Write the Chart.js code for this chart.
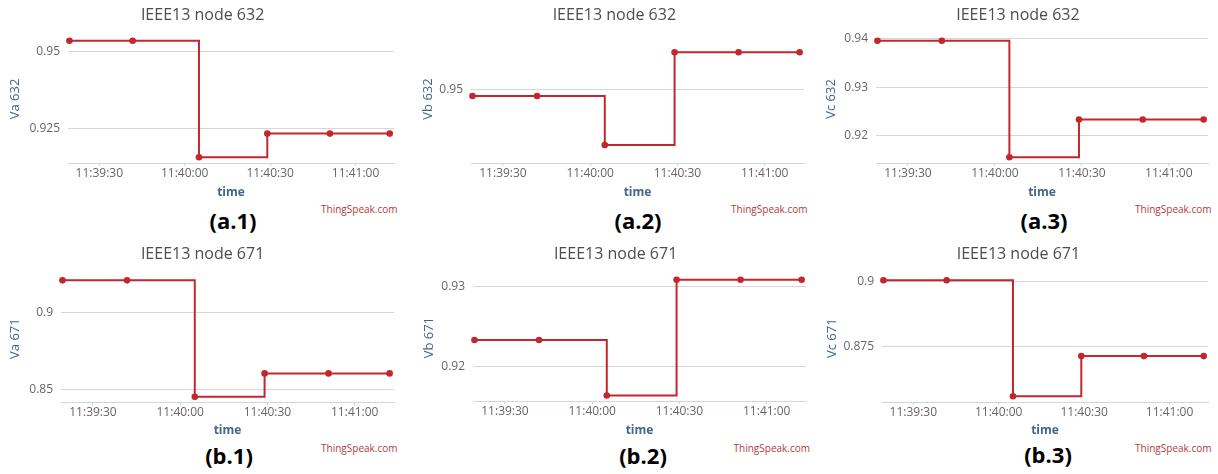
<!DOCTYPE html>
<html>
<head>
<meta charset="utf-8">
<script src="https://cdn.jsdelivr.net/npm/chart.js@4.4.1/dist/chart.umd.min.js"></script>
<style>
  html, body { margin: 0; padding: 0; background: #ffffff; }
  body { position: relative; width: 1218px; height: 474px; overflow: hidden; font-family: 'Open Sans', sans-serif; }
  canvas { position: absolute; }
  .credit { position: absolute; font: 10px 'Open Sans', sans-serif; color: #b23a3a; white-space: nowrap; transform: translate(-100%, -50%); }
  .tag { position: absolute; font: bold 22px 'Open Sans', sans-serif; color: #000; white-space: nowrap; transform: translate(-50%, -50%); }
</style>
</head>
<body>
<script>
// ---- data ----
// sample times, seconds of the day (11:39:19.5 ... 11:41:12)
const timeSec = [41959.5, 41981.7, 42005.0, 42029.0, 42051.0, 42072.0];
const xTickSec = [41970, 42000, 42030, 42060];
const xTickLabels = ['11:39:30', '11:40:00', '11:40:30', '11:41:00'];

const va632 = [0.9536, 0.9536, 0.9156, 0.9233, 0.9233, 0.9233];
const vb632 = [0.9478, 0.9478, 0.9317, 0.9622, 0.9622, 0.9622];
const vc632 = [0.9396, 0.9396, 0.9155, 0.9233, 0.9233, 0.9233];
const va671 = [0.9209, 0.9209, 0.8454, 0.8606, 0.8606, 0.8606];
const vb671 = [0.9233, 0.9233, 0.9163, 0.9309, 0.9309, 0.9309];
const vc671 = [0.9005, 0.9005, 0.8560, 0.8714, 0.8714, 0.8714];

const yTicksVa632 = [0.925, 0.95];   const yLabelsVa632 = ['0.925', '0.95'];
const yTicksVb632 = [0.95];          const yLabelsVb632 = ['0.95'];
const yTicksVc632 = [0.92, 0.93, 0.94]; const yLabelsVc632 = ['0.92', '0.93', '0.94'];
const yTicksVa671 = [0.85, 0.9];     const yLabelsVa671 = ['0.85', '0.9'];
const yTicksVb671 = [0.92, 0.93];    const yLabelsVb671 = ['0.92', '0.93'];
const yTicksVc671 = [0.875, 0.9];    const yLabelsVc671 = ['0.875', '0.9'];

const titles = ['IEEE13 node 632', 'IEEE13 node 671'];
const yTitles = ['Va 632', 'Vb 632', 'Vc 632', 'Va 671', 'Vb 671', 'Vc 671'];
const tags = ['(a.1)', '(a.2)', '(a.3)', '(b.1)', '(b.2)', '(b.3)'];
const xTitle = 'time';
const creditText = 'ThingSpeak.com';

// ---- layout / style ----
const LINE = '#c2272d';
const AXIS_BLUE = '#43658a';
const X_MIN = 41959.0, X_MAX = 42073.5;

const panels = [
  { values: va632, ticks: yTicksVa632, labels: yLabelsVa632, title: titles[0], yTitle: yTitles[0], tag: tags[0],
    yMin: 0.9137, yMax: 0.9555, x0: 0,   y0: 0,   h: 200, L: 68,  R: 398,  T: 35,    B: 163,   titleY: 15,    yTitleX: 15,
    credit: [397.5, 208.5], tagPos: [233, 219.5] },
  { values: vb632, ticks: yTicksVb632, labels: yLabelsVb632, title: titles[0], yTitle: yTitles[1], tag: tags[1],
    yMin: 0.92576, yMax: 0.96786, x0: 410, y0: 0, h: 200, L: 471, R: 808,  T: 35,    B: 163,   titleY: 15,    yTitleX: 428.5,
    credit: [807.5, 208.5], tagPos: [638, 219.5] },
  { values: vc632, ticks: yTicksVc632, labels: yLabelsVc632, title: titles[0], yTitle: yTitles[2], tag: tags[2],
    yMin: 0.9143, yMax: 0.9408, x0: 810, y0: 0,   h: 200, L: 876, R: 1212, T: 35,    B: 163,   titleY: 15,    yTitleX: 831.7,
    credit: [1211.5, 208.5], tagPos: [1044, 219.5] },
  { values: va671, ticks: yTicksVa671, labels: yLabelsVa671, title: titles[1], yTitle: yTitles[3], tag: tags[3],
    yMin: 0.8416, yMax: 0.9247, x0: 0,   y0: 237, h: 201, L: 61,  R: 398,  T: 274.5, B: 402.7, titleY: 254.5, yTitleX: 15,
    credit: [397.5, 448], tagPos: [229, 455.3] },
  { values: vb671, ticks: yTicksVb671, labels: yLabelsVb671, title: titles[1], yTitle: yTitles[4], tag: tags[4],
    yMin: 0.91557, yMax: 0.93163, x0: 410, y0: 237, h: 201, L: 473, R: 810, T: 274,   B: 401.3, titleY: 254.5, yTitleX: 429,
    credit: [810, 448], tagPos: [643, 455.3] },
  { values: vc671, ticks: yTicksVc671, labels: yLabelsVc671, title: titles[1], yTitle: yTitles[5], tag: tags[5],
    yMin: 0.85378, yMax: 0.90273, x0: 810, y0: 237, h: 201, L: 882, R: 1212, T: 274.5, B: 402,   titleY: 254.5, yTitleX: 832.7,
    credit: [1211.5, 448], tagPos: [1048, 453.7] }
];

Chart.defaults.font.family = "'Open Sans', sans-serif";
Chart.defaults.animation = false;

panels.forEach((p) => {
  const w = p.R - p.x0;
  const canvas = document.createElement('canvas');
  canvas.width = w; canvas.height = p.h;
  canvas.style.left = p.x0 + 'px'; canvas.style.top = p.y0 + 'px';
  canvas.style.width = w + 'px'; canvas.style.height = p.h + 'px';
  document.body.appendChild(canvas);

  const titleSize = 16, titleLH = titleSize * 1.2;
  const yTitleSize = 13, yTitleLH = yTitleSize * 1.2;
  const padLeft = p.yTitleX - p.x0 - yTitleLH / 2;
  const tPadTop = p.titleY - p.y0 - titleLH / 2;
  const tPadBottom = p.T - p.y0 - tPadTop - titleLH;

  new Chart(canvas, {
    type: 'line',
    data: {
      datasets: [{
        data: timeSec.map((t, i) => ({ x: t, y: p.values[i] })),
        stepped: true,
        borderColor: LINE,
        backgroundColor: LINE,
        borderWidth: 2,
        pointRadius: 3.3,
        pointBackgroundColor: LINE,
        pointBorderWidth: 0,
        fill: false,
        clip: false
      }]
    },
    options: {
      responsive: false,
      devicePixelRatio: 1,
      animation: false,
      layout: { padding: { left: padLeft, right: 0, top: 0, bottom: 0 } },
      plugins: {
        legend: { display: false },
        tooltip: { enabled: false },
        title: {
          display: true, text: p.title, color: '#4d4d4d',
          font: { size: titleSize, weight: 'normal' },
          padding: { top: tPadTop, bottom: tPadBottom }
        }
      },
      scales: {
        x: {
          type: 'linear', min: X_MIN, max: X_MAX,
          afterBuildTicks: (s) => { s.ticks = xTickSec.map(v => ({ value: v })); },
          afterFit: (s) => { s.height = p.y0 + p.h - p.B; },
          ticks: { autoSkip: false, maxRotation: 0, minRotation: 0, padding: 0, color: '#666666',
                   font: { size: 12 }, callback: (v, i) => xTickLabels[i] },
          grid: { display: true, drawOnChartArea: false, drawTicks: true, tickLength: 3, color: '#ccd6eb' },
          border: { display: true, color: '#ccd6eb', width: 1 },
          title: { display: true, text: xTitle, color: AXIS_BLUE, font: { size: 12, weight: 'bold' }, padding: { top: 0, bottom: 0 } }
        },
        y: {
          type: 'linear', min: p.yMin, max: p.yMax,
          afterBuildTicks: (s) => { s.ticks = p.ticks.map(v => ({ value: v })); },
          afterFit: (s) => { s.width = p.L - p.x0 - padLeft; },
          ticks: { padding: 8, color: '#666666', font: { size: 12 }, callback: (v, i) => p.labels[i] },
          grid: { drawTicks: false, color: '#d6d6d6', lineWidth: 1 },
          border: { display: false },
          title: { display: true, text: p.yTitle, color: AXIS_BLUE, font: { size: yTitleSize, weight: 'normal' }, padding: { top: 0, bottom: 0 } }
        }
      }
    }
  });

  const c = document.createElement('div');
  c.className = 'credit'; c.textContent = creditText;
  c.style.left = p.credit[0] + 'px'; c.style.top = p.credit[1] + 'px';
  document.body.appendChild(c);

  const t = document.createElement('div');
  t.className = 'tag'; t.textContent = p.tag;
  t.style.left = p.tagPos[0] + 'px'; t.style.top = p.tagPos[1] + 'px';
  document.body.appendChild(t);
});
</script>
</body>
</html>
